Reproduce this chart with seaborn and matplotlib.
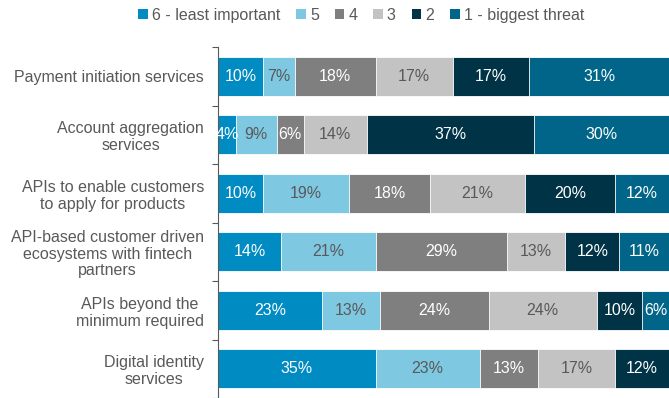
import numpy as np
import matplotlib
matplotlib.use('Agg')
import matplotlib.pyplot as plt
import seaborn as sns
from matplotlib.patches import Patch

categories = ['Payment initiation services',
              'Account aggregation\nservices',
              'APIs to enable customers\nto apply for products',
              'API-based customer driven\necosystems with fintech\npartners',
              'APIs beyond the\nminimum required',
              'Digital identity\nservices']
series_names = ['6 - least important', '5', '4', '3', '2', '1 - biggest threat']
rank_6 = [10, 4, 10, 14, 23, 35]
rank_5 = [7, 9, 19, 21, 13, 23]
rank_4 = [18, 6, 18, 29, 24, 13]
rank_3 = [17, 14, 21, 13, 24, 17]
rank_2 = [17, 37, 20, 12, 10, 12]
rank_1 = [31, 30, 12, 11, 6, 0]

clrs = ['#008BC2', '#7FC8E2', '#7F7F7F', '#C3C3C3', '#003346', '#006588']
txt_clrs = ['white', '#595959', 'white', '#595959', 'white', 'white']

sns.set_style('white')
plt.rcParams['font.family'] = ['Liberation Sans', 'DejaVu Sans']
fs = 11.5

series = [rank_6, rank_5, rank_4, rank_3, rank_2, rank_1]
vals = np.array(series, dtype=float)
cums = np.cumsum(vals, axis=0)

fig = plt.figure(figsize=(6.69, 3.98), dpi=100)
ax = fig.add_axes([218 / 669, 0.0, 1 - 218 / 669, 1 - 47 / 398])

# stacked bars: draw cumulative totals from the outside in
for i in reversed(range(len(series))):
    sns.barplot(x=cums[i], y=categories, color=clrs[i], orient='h', width=0.66,
                edgecolor='white', linewidth=0.6, saturation=1, ax=ax)

for i in range(len(series)):
    for j in range(len(categories)):
        v = vals[i, j]
        if v <= 0:
            continue
        ax.text(cums[i, j] - v / 2, j, f'{int(v)}%', ha='center', va='center',
                color=txt_clrs[i], fontsize=fs)

ax.set_xlim(0, 100)
ax.set_ylim(len(categories) - 0.5, -0.5)
ax.set_xlabel('')
ax.set_ylabel('')
ax.set_xticks([])
ax.set_yticks(range(len(categories)))
ax.set_yticklabels(categories, fontsize=fs, color='#595959', multialignment='center',
                   linespacing=1.15)
ax.set_yticks(np.arange(-0.5, len(categories), 1), minor=True)
ax.tick_params(axis='y', which='major', length=0, pad=10)
ax.tick_params(axis='y', which='minor', length=4, width=0.8, color='#595959', left=True)
for s in ['top', 'right', 'bottom']:
    ax.spines[s].set_visible(False)
ax.spines['left'].set_color('#595959')
ax.spines['left'].set_linewidth(0.8)

handles = [Patch(facecolor=c, edgecolor='none') for c in clrs]
fig.legend(handles, series_names, loc='center', bbox_to_anchor=(0.54, 0.962), ncol=6,
           frameon=False, fontsize=fs, handlelength=0.6, handleheight=0.6,
           handletextpad=0.25, columnspacing=1.0, labelcolor='#595959')

fig.savefig('out.png', dpi=100)
